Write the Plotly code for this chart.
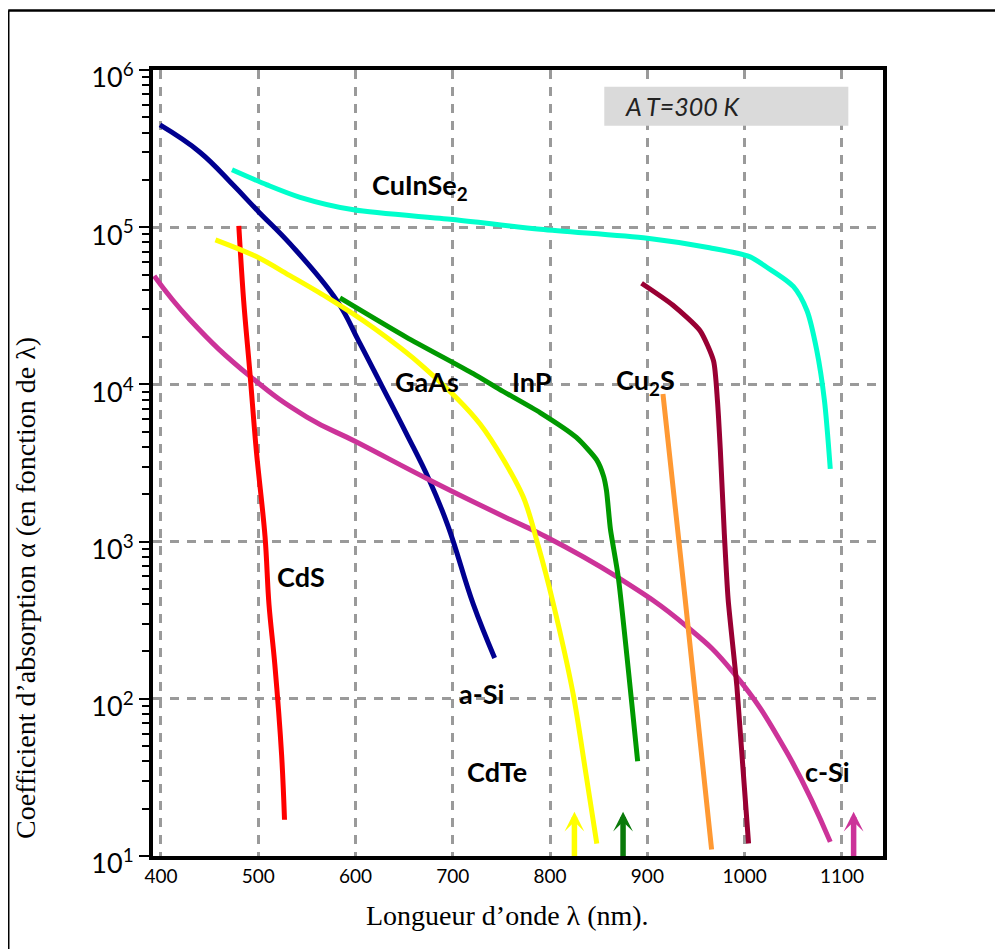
import math
import plotly.graph_objects as go

# ---------------- data ----------------
asi_x = [399, 440, 474, 500, 533, 581, 603, 627, 652, 676, 695, 721, 743]
asi_y = [4.47e5, 3.0e5, 1.86e5, 1.26e5, 7.8e4, 3.4e4, 1.9e4, 9.8e3, 4.9e3, 2.45e3, 1.26e3, 400, 182]

cuinse2_x = [473, 509, 543, 598, 700, 790, 900, 964, 1005, 1022, 1050, 1064, 1074, 1082, 1088]
cuinse2_y = [2.32e5, 1.86e5, 1.55e5, 1.29e5, 1.12e5, 9.7e4, 8.5e4, 7.4e4, 6.5e4, 5.6e4, 4.2e4, 2.95e4, 1.66e4, 7.9e3, 2.9e3]

cds_x = [480, 485, 491.5, 498, 507, 511, 517, 524, 527]
cds_y = [1.02e5, 3.4e4, 1.17e4, 3.8e3, 1.07e3, 400, 166, 44, 17]

cdte_x = [456, 498, 533, 570, 618, 670, 728, 772, 788, 803, 824, 836, 848]
cdte_y = [8.3e4, 6.5e4, 4.9e4, 3.6e4, 2.3e4, 1.29e4, 5.6e3, 1.95e3, 930, 410, 105, 36, 12]

csi_x = [393, 430, 492, 550, 601, 677, 759, 790, 868, 940, 988, 1043, 1088]
csi_y = [4.9e4, 2.57e4, 1.12e4, 6.2e3, 4.3e3, 2.45e3, 1.38e3, 1.12e3, 600, 290, 148, 46, 12.3]

gaas_x = [584, 652, 721, 748, 790, 827, 848, 855, 858, 862, 870, 890]
gaas_y = [3.55e4, 2.0e4, 1.17e4, 9.3e3, 6.6e3, 4.6e3, 3.3e3, 2.6e3, 2.1e3, 1.2e3, 600, 40]

cu2s_x = [916, 938.5, 966]
cu2s_y = [8.7e3, 450, 11]

inp_x = [894, 926, 954, 968, 972, 975, 979, 983, 992, 1004]
inp_y = [4.4e4, 3.2e4, 2.2e4, 1.41e4, 7.9e3, 3.8e3, 1.15e3, 430, 120, 12]

# band-gap arrows (wavelength, nm) and their tip height
gap_x = [825, 875, 1112]
gap_tip = [19.1, 19.1, 19.1]
gap_colors = ["#FFFF00", "#0A7A0A", "#CC3399"]

x_ticks = [400, 500, 600, 700, 800, 900, 1000, 1100]
y_ticks = [10, 100, 1000, 10000, 100000, 1000000]
y_ticktext = ["10<sup>1</sup>", "10<sup>2</sup>", "10<sup>3</sup>", "10<sup>4</sup>",
              "10<sup>5</sup>", "10<sup>6</sup>"]

series = [
    (asi_x, asi_y, "#000090", 1.2),
    (cuinse2_x, cuinse2_y, "#00FFCC", 0.8),
    (csi_x, csi_y, "#CC3399", 1.3),
    (cds_x, cds_y, "#FF0000", 1.0),
    (cdte_x, cdte_y, "#FFFF00", 0.8),
    (gaas_x, gaas_y, "#009900", 0.6),
    (cu2s_x, cu2s_y, "#FF9933", 0.5),
    (inp_x, inp_y, "#990033", 0.6),
]

fig = go.Figure()
for xs, ys, col, sm in series:
    fig.add_trace(go.Scatter(x=xs, y=ys, mode="lines",
                             line=dict(color=col, width=5, shape="spline", smoothing=sm),
                             hoverinfo="skip"))

SANS = "Lato, 'Open Sans', sans-serif"
SERIF = "'Liberation Serif', 'Times New Roman', serif"
GRID = "#9A9A9A"

fig.update_layout(
    width=995, height=941,
    margin=dict(l=145, r=120, t=62, b=93),
    paper_bgcolor="white", plot_bgcolor="white",
    showlegend=False,
    xaxis=dict(range=[391.8, 1142.2], tickvals=x_ticks, ticks="",
               showgrid=True, gridcolor=GRID, gridwidth=2.5, griddash="9px,8px",
               showline=True, linecolor="black", linewidth=4, mirror=True,
               zeroline=False, tickfont=dict(family=SANS, size=19, color="black")),
    yaxis=dict(type="log", range=[1, 6], tickvals=y_ticks, ticktext=y_ticktext,
               showgrid=True, gridcolor=GRID, gridwidth=2.5, griddash="9px,8px",
               showline=True, linecolor="black", linewidth=4, mirror=True,
               ticks="outside", ticklen=10, tickwidth=2, tickcolor="black",
               minor=dict(ticks="outside", ticklen=7, tickwidth=2, tickcolor="black",
                          dtick="D1", showgrid=False),
               ticklabelshift=8,
               zeroline=False, tickfont=dict(family=SANS, size=27, color="black")),
)

# frame lines (top & left of the original picture frame)
fig.add_shape(type="line", xref="paper", yref="paper", x0=-0.1983, x1=1.2, y0=1.0757, y1=1.0757,
              line=dict(color="black", width=2.5))
fig.add_shape(type="line", xref="paper", yref="paper", x0=-0.1983, x1=-0.1983, y0=1.0757, y1=-0.15,
              line=dict(color="black", width=2.5))

# temperature box
fig.add_shape(type="rect", xref="paper", yref="paper", x0=0.6182, x1=0.9525, y0=0.9291, y1=0.9788,
              fillcolor="#DADADA", line=dict(width=0), layer="above")
fig.add_annotation(xref="paper", yref="paper", x=0.6438, y=0.9542, xanchor="left", yanchor="middle",
                   text="<i>A T=300 K</i>", showarrow=False,
                   font=dict(family=SANS, size=25, color="#222222"))

# curve labels
labels = [
    ("CuInSe<sub>2</sub>", 666.2, 5.256),
    ("GaAs", 673.4, 4.017),
    ("InP", 781.0, 4.017),
    ("Cu<sub>2</sub>S", 898.2, 4.017),
    ("CdS", 543.9, 2.775),
    ("a-Si", 729.9, 2.035),
    ("CdTe", 745.0, 1.536),
    ("c-Si", 1084.9, 1.536),
]
for t, lx, ly in labels:
    fig.add_annotation(x=lx, y=ly, xref="x", yref="y", text="<b>%s</b>" % t, showarrow=False,
                       xanchor="center", yanchor="middle",
                       font=dict(family=SANS, size=27, color="black"))

# arrows marking band gaps
for gx, gt, gc in zip(gap_x, gap_tip, gap_colors):
    fig.add_annotation(x=gx, y=math.log10(gt), ax=gx, ay=0.99, xref="x", yref="y",
                       axref="x", ayref="y", showarrow=True, arrowhead=3, arrowsize=0.6,
                       arrowwidth=5.5, arrowcolor=gc, text="", standoff=0)

# axis titles
fig.add_annotation(xref="paper", yref="paper", x=0.486, y=-0.0763, showarrow=False,
                   xanchor="center", yanchor="middle",
                   text="Longueur d\u2019onde \u03bb (nm).",
                   font=dict(family=SERIF, size=28, color="black"))
fig.add_annotation(xref="paper", yref="paper", x=-0.174, y=0.341, showarrow=False, textangle=-90,
                   xanchor="center", yanchor="middle",
                   text="Coefficient d\u2019absorption \u03b1 (en fonction de \u03bb)",
                   font=dict(family=SERIF, size=28, color="black"))

fig.write_html("out.html")
